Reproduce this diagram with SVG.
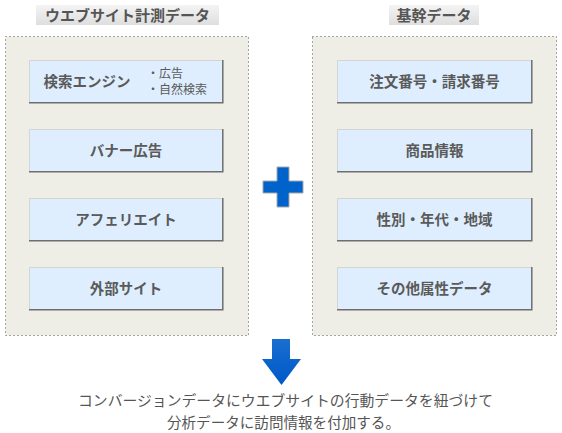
<svg xmlns="http://www.w3.org/2000/svg" width="562" height="433" viewBox="0 0 562 433">
<defs>
<linearGradient id="tg" x1="0" y1="0" x2="0" y2="1"><stop offset="0" stop-color="#f4f4f4"/><stop offset="1" stop-color="#dedede"/></linearGradient>
<linearGradient id="ag" x1="0" y1="0" x2="0" y2="1"><stop offset="0" stop-color="#1a6ed0"/><stop offset="1" stop-color="#0058c8"/></linearGradient>
<style>
.panel{fill:#eeede6;stroke:#555;stroke-width:1;stroke-dasharray:1 3}
.title{fill:url(#tg)}
.tt{font-family:"Noto Sans CJK JP",sans-serif;font-weight:bold;font-size:15px;fill:#555;text-anchor:middle}
.box{fill:#deeefe}
.hl{stroke:#d4d4d4;stroke-width:1;fill:none}
.sh{stroke:#6e6e6e;stroke-width:1.5;fill:none}
.bt{font-family:"Noto Sans CJK JP",sans-serif;font-weight:bold;font-size:14.5px;fill:#5a5a5a;text-anchor:middle}
.st{font-family:"Noto Sans CJK JP",sans-serif;font-size:12px;fill:#5a5a5a}
.cap{font-family:"Noto Sans CJK JP",sans-serif;font-size:14.5px;fill:#555;text-anchor:middle}
</style>
</defs>
<rect width="562" height="433" fill="#fff"/>
<g id="panel-web">
<rect class="panel" x="5.5" y="36.5" width="243" height="299"/>
<rect class="title" x="36" y="5" width="183" height="20"/>
<text class="tt" x="127.5" y="21">ウエブサイト計測データ</text>
</g>
<g id="panel-core">
<rect class="panel" x="312.5" y="36.5" width="244" height="299"/>
<rect class="title" x="389" y="5" width="90" height="20"/>
<text class="tt" x="434" y="21">基幹データ</text>
</g>
<g id="node-search">
<rect class="box" x="29" y="60" width="194" height="43"/>
<path class="hl" d="M29.5 102.5V60.5H222.5"/><path class="sh" d="M29 102.8H222.8V60"/>
<text class="bt" x="87" y="87">検索エンジン</text>
<text class="st" x="147" y="78">・広告</text>
<text class="st" x="147" y="94">・自然検索</text>
</g>
<g id="node-banner">
<rect class="box" x="29" y="129" width="194" height="43"/>
<path class="hl" d="M29.5 171.5V129.5H222.5"/><path class="sh" d="M29 171.8H222.8V129"/>
<text class="bt" x="126" y="156">バナー広告</text>
</g>
<g id="node-affiliate">
<rect class="box" x="29" y="198" width="194" height="43"/>
<path class="hl" d="M29.5 240.5V198.5H222.5"/><path class="sh" d="M29 240.8H222.8V198"/>
<text class="bt" x="126" y="225">アフェリエイト</text>
</g>
<g id="node-external">
<rect class="box" x="29" y="267" width="194" height="43"/>
<path class="hl" d="M29.5 309.5V267.5H222.5"/><path class="sh" d="M29 309.8H222.8V267"/>
<text class="bt" x="126" y="294">外部サイト</text>
</g>
<g id="node-order">
<rect class="box" x="337" y="60" width="195" height="43"/>
<path class="hl" d="M337.5 102.5V60.5H531.5"/><path class="sh" d="M337 102.8H531.8V60"/>
<text class="bt" x="434.5" y="87">注文番号・請求番号</text>
</g>
<g id="node-product">
<rect class="box" x="337" y="129" width="195" height="43"/>
<path class="hl" d="M337.5 171.5V129.5H531.5"/><path class="sh" d="M337 171.8H531.8V129"/>
<text class="bt" x="434.5" y="156">商品情報</text>
</g>
<g id="node-attr">
<rect class="box" x="337" y="198" width="195" height="43"/>
<path class="hl" d="M337.5 240.5V198.5H531.5"/><path class="sh" d="M337 240.8H531.8V198"/>
<text class="bt" x="434.5" y="225">性別・年代・地域</text>
</g>
<g id="node-other">
<rect class="box" x="337" y="267" width="195" height="43"/>
<path class="hl" d="M337.5 309.5V267.5H531.5"/><path class="sh" d="M337 309.8H531.8V267"/>
<text class="bt" x="434.5" y="294">その他属性データ</text>
</g>
<g id="connectors">
<path d="M277 167H289V181H303V193H289V207H277V193H263V181H277Z" fill="#0063cc" stroke="#a8a8a8" stroke-width="1"/>
<path d="M272 339H290V359H301L281.5 385L262 359H272Z" fill="url(#ag)"/>
</g>
<g id="caption">
<text class="cap" x="285.5" y="406" textLength="415" lengthAdjust="spacingAndGlyphs">コンバージョンデータにウエブサイトの行動データを紐づけて</text>
<text class="cap" x="283.5" y="428" textLength="233" lengthAdjust="spacingAndGlyphs">分析データに訪問情報を付加する。</text>
</g>
</svg>
